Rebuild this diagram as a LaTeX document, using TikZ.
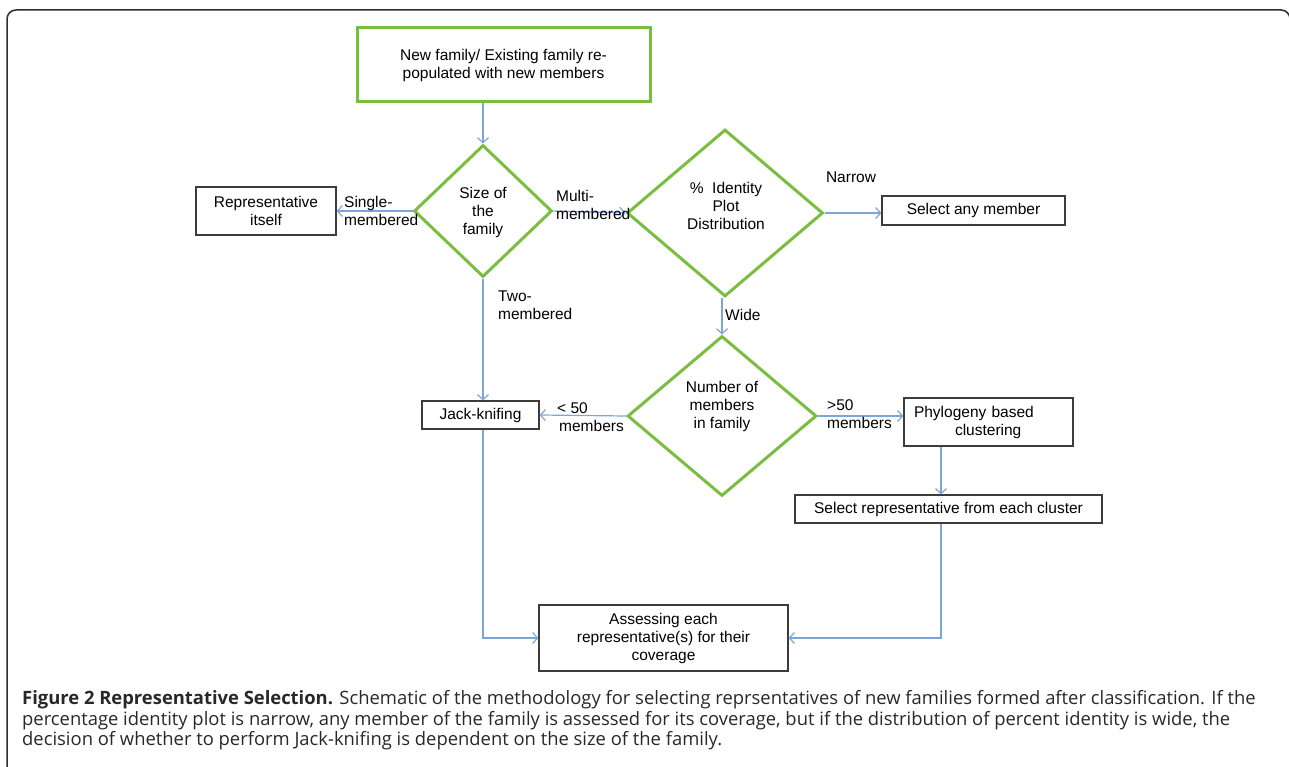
\documentclass[tikz,border=0pt]{standalone}
\usepackage{fontspec}
\setmainfont{Liberation Sans}
\newfontfamily\capfont{Open Sans}
\usetikzlibrary{shapes.geometric,arrows.meta}
\definecolor{gr}{RGB}{122,190,64}
\definecolor{bl}{RGB}{125,165,218}
\definecolor{fr}{RGB}{45,45,45}
\definecolor{bx}{RGB}{60,60,60}
\definecolor{cap}{RGB}{40,40,40}
\begin{document}
\begin{tikzpicture}[x=1pt,y=-1pt,
  txt/.style={font=\fontsize{15.5}{18}\selectfont, inner sep=0pt, align=center},
  gbox/.style={txt, draw=gr, line width=3pt},
  bbox/.style={txt, draw=bx, line width=1.2pt},
  dia/.style={draw=gr, line width=3pt, diamond, inner sep=0pt},
  conn/.style={draw=bl, line width=1.2pt, -{Straight Barb[length=5pt,width=11pt]}},
  lbl/.style={txt, align=left, anchor=west},
  captxt/.style={font=\capfont\fontsize{18.4}{20}\selectfont, text=cap, inner sep=0pt, anchor=base west}]
\useasboundingbox (0,0) rectangle (1289,767);
\clip (0,0) rectangle (1289,767);
% frame
\draw[fr, line width=1.5pt, rounded corners=9pt] (7,10) rectangle (1290,820);

% boxes
\node[gbox, minimum width=293pt, minimum height=74pt] (top) at (503.5,65)
  {New family/ Existing family re-\\populated with new members};
\node[bbox, minimum width=140pt, minimum height=48pt] (rep) at (266,211)
  {Representative\\itself};
\node[bbox, minimum width=183pt, minimum height=29pt] (sel) at (973.5,210.5)
  {Select any member};
\node[bbox, minimum width=117pt, minimum height=28pt] (jack) at (480.5,415)
  {Jack-knifing};
\node[bbox, minimum width=169pt, minimum height=48pt, text width=149pt, align=left] (phy) at (988.5,422)
  {Phylogeny based\\\hspace*{41pt}clustering};
\node[bbox, minimum width=307pt, minimum height=28pt] (selrep) at (948.5,509)
  {Select representative from each cluster};
\node[bbox, minimum width=249pt, minimum height=66pt] (assess) at (663.5,638)
  {Assessing each\\representative(s) for their\\coverage};

% diamonds
\node[dia, minimum width=138pt, minimum height=132pt] (d1) at (483,211) {};
\node[txt] (d1t) at (483,212) {Size of\\the\\family};
\node[dia, minimum width=196pt, minimum height=167pt] (d2) at (725,213) {};
\node[txt] (d2t) at (726,206) {\%\ \ Identity\\Plot\\Distribution};
\node[dia, minimum width=189pt, minimum height=160pt] (d3) at (722,416) {};
\node[txt] (d3t) at (722,406) {Number of\\members\\in family};

% connectors
\draw[conn] (top.south -| d1.north) -- (d1.north);
\draw[conn] (d1.west) -- (rep.east);
\draw[conn] (d1.east) -- (d2.west);
\draw[conn] (d2.east) -- (d2.east -| sel.west);
\draw[conn] (d3.north |- d2.south) -- (d3.north);
\draw[conn] (d1.south) -- (d1.south |- jack.north);
\draw[conn] (d3.west) -- (jack.east);
\draw[conn] (d3.east) -- (d3.east -| phy.west);
\coordinate (pdown) at (941,0);
\draw[conn] (pdown |- phy.south) -- (pdown |- selrep.north);
\draw[conn] (pdown |- selrep.south) |- (assess.east);
\draw[conn] (d1.south |- jack.south) |- (assess.west);

% edge labels
\node[lbl] (l1) at (344,211) {Single-\\membered};
\node[lbl] (l2) at (556,205) {Multi-\\membered};
\node[txt] (l3) at (851,177) {Narrow};
\node[lbl] (l4) at (498,305.5) {Two-\\membered};
\node[lbl] (l5) at (725,315) {Wide};
\node[lbl] (l6) at (557,417) {< 50\\\hspace*{2pt}members};
\node[lbl] (l7) at (827,414) {>50\\members};

% caption
\node[captxt] (c1) at (22,704.5) {\textbf{Figure 2 Representative Selection.} Schematic of the methodology for selecting reprsentatives of new families formed after classification. If the};
\node[captxt] (c2) at (22,725) {percentage identity plot is narrow, any member of the family is assessed for its coverage, but if the distribution of percent identity is wide, the};
\node[captxt] (c3) at (22,745.5) {decision of whether to perform Jack-knifing is dependent on the size of the family.};
\end{tikzpicture}
\end{document}
